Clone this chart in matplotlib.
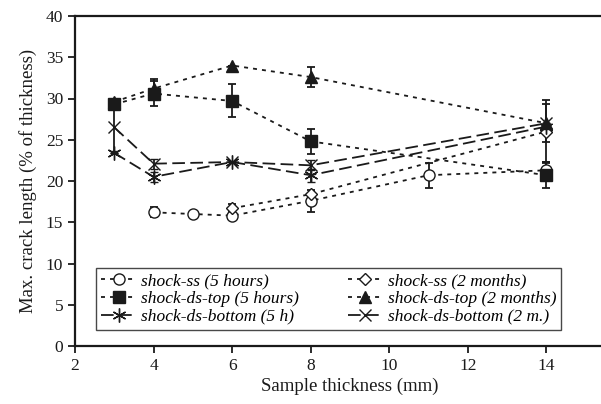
import numpy as np
import matplotlib
matplotlib.use('Agg')
import matplotlib.pyplot as plt

plt.rcParams['font.family'] = ['Liberation Serif', 'DejaVu Serif']

# shock-ss
ss5h_x = [4, 5, 6, 8, 11, 14]
ss5h_y = [16.2, 16.0, 15.8, 17.6, 20.7, 21.3]
ss5h_err = [0.6, 0.0, 0.3, 1.3, 1.5, 1.0]

ss2m_x = [6, 8, 14]
ss2m_y = [16.7, 18.4, 26.0]
ss2m_err = [0.5, 0.0, 3.8]

# shock-ds-top
top5h_x = [3, 4, 6, 8, 14]
top5h_y = [29.3, 30.6, 29.7, 24.8, 20.7]
top5h_err = [0.6, 1.5, 2.0, 1.5, 1.6]

top2m_x = [3, 4, 6, 8, 14]
top2m_y = [29.6, 31.2, 34.0, 32.6, 27.0]
top2m_err = [0.0, 1.2, 0.0, 1.2, 2.3]

# shock-ds-bottom
bot5h_x = [3, 4, 6, 8, 14]
bot5h_y = [23.4, 20.5, 22.3, 20.7, 26.6]
bot5h_err = [0.0, 0.6, 0.0, 0.8, 0.0]

bot2m_x = [3, 4, 6, 8, 14]
bot2m_y = [26.5, 22.1, 22.3, 21.9, 27.0]
bot2m_err = [2.9, 0.6, 0.0, 0.6, 0.0]

c = '#1a1a1a'
dot = (0, (2.2, 2.8))
dash = (0, (7, 3))
asterisk = (6, 2, 0)

fig = plt.figure(figsize=(6.01, 4.04), dpi=100)
ax = fig.add_axes([75 / 601, 1 - 346 / 404, 550 / 601, 330 / 404])

kw = dict(color=c, ecolor=c, elinewidth=1.3, capsize=3, capthick=1.3, lw=1.3)
e1 = ax.errorbar(ss5h_x, ss5h_y, yerr=ss5h_err, marker='o', ls=dot, mfc='white', mec=c, ms=8,
                 label='shock-ss (5 hours)', **kw)
e2 = ax.errorbar(ss2m_x, ss2m_y, yerr=ss2m_err, marker='D', ls=dot, mfc='white', mec=c, ms=6.5,
                 label='shock-ss (2 months)', **kw)
e3 = ax.errorbar(top5h_x, top5h_y, yerr=top5h_err, marker='s', ls=dot, mfc=c, mec=c, ms=8,
                 label='shock-ds-top (5 hours)', **kw)
e4 = ax.errorbar(top2m_x, top2m_y, yerr=top2m_err, marker='^', ls=dot, mfc=c, mec=c, ms=8,
                 label='shock-ds-top (2 months)', **kw)
e5 = ax.errorbar(bot5h_x, bot5h_y, yerr=bot5h_err, marker=asterisk, ls=dash, mec=c, ms=10, mew=1.0,
                 label='shock-ds-bottom (5 h)', **kw)
e6 = ax.errorbar(bot2m_x, bot2m_y, yerr=bot2m_err, marker='x', ls=dash, mec=c, ms=9, mew=1.0,
                 label='shock-ds-bottom (2 m.)', **kw)

ax.set_xlim(2, 16)
ax.set_ylim(0, 40)
ax.set_xticks(np.arange(2, 16, 2))
ax.set_yticks(np.arange(0, 45, 5))
ax.tick_params(direction='out', length=5, width=1.3, labelsize=12.5, colors=c)
for s in ax.spines.values():
    s.set_linewidth(1.6)
    s.set_color(c)

ax.set_xlabel('Sample thickness (mm)', fontsize=13.5, color=c, labelpad=3)
ax.set_ylabel('Max. crack length (% of thickness)', fontsize=13.5, color=c, labelpad=6)

# legend row by row, line+marker only
order = [e1, e3, e5, e2, e4, e6]
handles = [e[0] for e in order]
labels = [e.get_label() for e in order]
leg = ax.legend(handles, labels, ncol=2, loc='lower left', bbox_to_anchor=(21 / 550, 16 / 330),
                prop={'style': 'italic', 'size': 12.5}, frameon=True, fancybox=False,
                edgecolor=c, handlelength=2.0, handletextpad=0.3, columnspacing=2.8,
                labelspacing=0.1, borderpad=0.3, borderaxespad=0)
leg.get_frame().set_linewidth(1.0)

fig.savefig('out.png', dpi=100)
